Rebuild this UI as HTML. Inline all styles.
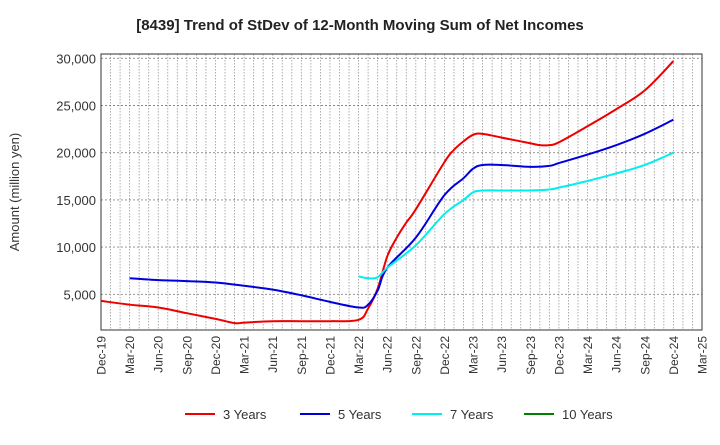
<!DOCTYPE html>
<html><head><meta charset="utf-8"><style>
body{margin:0;background:#fff;font-family:"Liberation Sans",Arial,sans-serif}
svg text{font-family:"Liberation Sans",Arial,sans-serif}
</style></head><body>
<svg id="c" width="720" height="440" xmlns="http://www.w3.org/2000/svg">
<text x="360" y="30" text-anchor="middle" font-size="15" font-weight="bold" fill="#222">[8439]  Trend of StDev of 12-Month Moving Sum of Net Incomes</text>
<text transform="translate(19,192) rotate(-90)" text-anchor="middle" font-size="13" fill="#333">Amount (million yen)</text>
<g id="grid"></g><g id="axes"></g><g id="series"></g><g id="legend"></g>
</svg>
<script>
const xLabels=["Dec-19","Mar-20","Jun-20","Sep-20","Dec-20","Mar-21","Jun-21","Sep-21","Dec-21","Mar-22","Jun-22","Sep-22","Dec-22","Mar-23","Jun-23","Sep-23","Dec-23","Mar-24","Jun-24","Sep-24","Dec-24","Mar-25"];
const yTicks=[5000,10000,15000,20000,25000,30000];
const yTickLabels=["5,000","10,000","15,000","20,000","25,000","30,000"];
// month index from Dec-19
const m3=[0,3,6,9,12,14,15,18,21,24,27,28,29,30,31,32,33,36,37,38,39,40,42,45,46,47,48,51,54,57,60];
const v3=[4300,3900,3600,3000,2400,1950,2000,2150,2150,2150,2300,3500,5600,9000,11000,12600,14000,19000,20300,21200,21900,22000,21600,21000,20800,20800,21100,22800,24600,26600,29700];
const m5=[3,6,9,12,15,18,21,24,27,28,29,30,33,36,38,39,40,42,45,47,48,51,54,57,60];
const v5=[6700,6500,6400,6250,5900,5500,4900,4200,3600,3900,5400,7800,11000,15500,17300,18300,18700,18700,18500,18600,18900,19800,20800,22000,23500];
const m7=[27,28,29,30,33,36,38,39,40,42,45,47,48,51,54,57,60];
const v7=[6900,6700,6800,7800,10200,13500,15000,15800,16000,16000,16000,16100,16300,17000,17800,18700,20000];
const m10=[];const v10=[];
const L=101,R=702,T=54,B=330;
const X=m=>L+m*(R-L)/63;
const Y=v=>152.7-(v-20000)*47.2/5000;
const NS="http://www.w3.org/2000/svg";
function mk(t,a,p){const e=document.createElementNS(NS,t);for(const k in a)e.setAttribute(k,a[k]);p.appendChild(e);return e;}
const grid=document.getElementById('grid'),axes=document.getElementById('axes'),ser=document.getElementById('series'),leg=document.getElementById('legend');
for(let m=1;m<63;m++){const l=mk('line',{x1:X(m),x2:X(m),y1:T,y2:B,stroke:'#999','stroke-dasharray':'1.5,1.5','stroke-width':0.8},grid);

}
yTicks.forEach((v,i)=>{const l=mk('line',{x1:L,x2:R,y1:Y(v),y2:Y(v),stroke:'#888','stroke-dasharray':'2,2','stroke-width':0.9},grid);


const t=mk('text',{x:L-5,y:Y(v)+5,'text-anchor':'end','font-size':13,fill:'#333'},axes);t.textContent=yTickLabels[i];

});
const fr=mk('rect',{x:L,y:T,width:R-L,height:B-T,fill:'none',stroke:'#333','stroke-width':1},axes);


xLabels.forEach((s,i)=>{const x=X(i*3);const t=mk('text',{transform:`translate(${x+4.5},${B+6}) rotate(-90)`,'text-anchor':'end','font-size':12,fill:'#333'},axes);t.textContent=s;

});
function path(ms,vs){if(!ms.length)return'';const p=ms.map((m,i)=>[X(m),Y(vs[i])]);let d=`M${p[0][0]},${p[0][1]}`;
for(let i=0;i<p.length-1;i++){const p0=p[Math.max(0,i-1)],p1=p[i],p2=p[i+1],p3=p[Math.min(p.length-1,i+2)];const k=0.18;
d+=`C${p1[0]+(p2[0]-p0[0])*k},${p1[1]+(p2[1]-p0[1])*k} ${p2[0]-(p3[0]-p1[0])*k},${p2[1]-(p3[1]-p1[1])*k} ${p2[0]},${p2[1]}`;}return d;}
const S=[[m3,v3,'#ee0000','3 Years','series-3-years'],[m5,v5,'#0000dd','5 Years','series-5-years'],[m7,v7,'#00eeee','7 Years','series-7-years'],[m10,v10,'#008000','10 Years','series-10-years']];
const lx=[185,300,412,524];
S.forEach((s,i)=>{if(s[0].length){const p=mk('path',{d:path(s[0],s[1]),fill:'none',stroke:s[2],'stroke-width':2},ser);

}
const g=mk('g',{},leg);


mk('line',{x1:lx[i],x2:lx[i]+30,y1:414,y2:414,stroke:s[2],'stroke-width':2},g);
const t=mk('text',{x:lx[i]+38,y:419,'font-size':13,fill:'#333'},g);t.textContent=s[3];});
</script>
</body></html>
